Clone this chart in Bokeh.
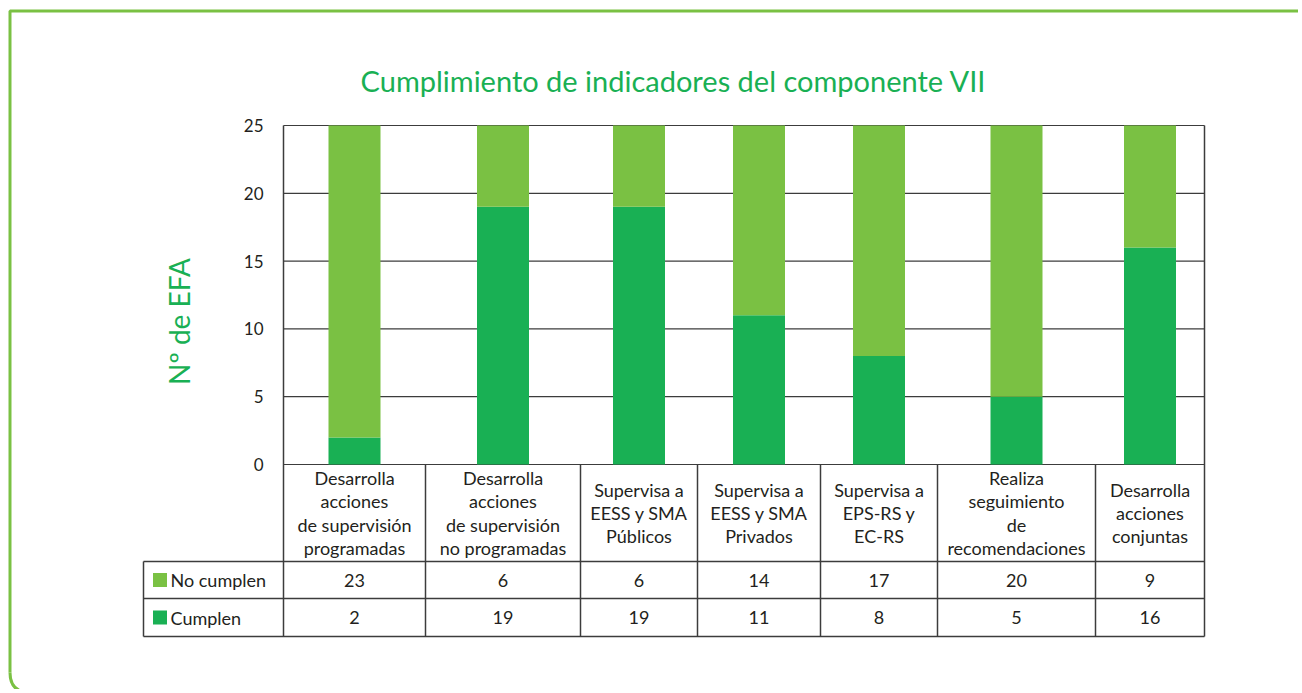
import math
from bokeh.plotting import figure
from bokeh.models import Range1d, LinearAxis, FixedTicker, Label, ColumnDataSource
from bokeh.embed import file_html
from bokeh.resources import INLINE
from bokeh.core.properties import value

# ---------------- data ----------------
categories = [
    "Desarrolla\nacciones\nde supervisión\nprogramadas",
    "Desarrolla\nacciones\nde supervisión\nno programadas",
    "Supervisa a\nEESS y SMA\nPúblicos",
    "Supervisa a\nEESS y SMA\nPrivados",
    "Supervisa a\nEPS-RS y\nEC-RS",
    "Realiza\nseguimiento\nde\nrecomendaciones",
    "Desarrolla\nacciones\nconjuntas",
]
no_cumplen = [23, 6, 6, 14, 17, 20, 9]
cumplen = [2, 19, 19, 11, 8, 5, 16]
series = ["No cumplen", "Cumplen"]
y_ticks = [0, 5, 10, 15, 20, 25]
title_text = "Cumplimiento de indicadores del componente VII"
y_label = "Nº de EFA"

# ---------------- layout / style ----------------
FONT = "Lato"
LIGHT = "#7ac143"
DARK = "#19b054"
TEXT = "#231f20"
LINE = "#3c3c3c"
BORDER = "#7ac143"

W, H = 1298, 689
OFF = 0
col_edges = [283, 425, 580, 697, 820, 937, 1095, 1204]
plot_top_px, zero_px = 125, 464
row_px = [561, 598, 636]
table_left = 143
ymax = max(y_ticks)
ppu = (zero_px - plot_top_px) / ymax


def vy(sy):
    return (zero_px - sy) / ppu


centers = [(a + b) / 2 for a, b in zip(col_edges[:-1], col_edges[1:])]
x_left, x_right = col_edges[0], col_edges[-1]

p = figure(width=W, height=H, x_range=Range1d(OFF, OFF + W),
           y_range=Range1d(vy(OFF + H), vy(OFF)),
           output_backend="svg", toolbar_location=None, min_border=0,
           x_axis_type=None, y_axis_type=None, outline_line_color=None,
           background_fill_color="white", border_fill_color="white")

# grid lines (inside plot area only)
p.segment(x0=[x_left] * len(y_ticks), x1=[x_right] * len(y_ticks),
          y0=y_ticks, y1=y_ticks, line_color=LINE, line_width=1.2)

# stacked bars
src = ColumnDataSource(dict(x=centers, Cumplen=cumplen, NoCumplen=no_cumplen))
p.vbar_stack(["Cumplen", "NoCumplen"], x="x", width=52, source=src,
             color=[DARK, LIGHT], line_color=None)

# table lines
for ry in row_px:
    p.segment(x0=table_left, x1=x_right, y0=vy(ry), y1=vy(ry), line_color=LINE, line_width=1.5)
inner = col_edges[1:-1]
p.segment(x0=inner, x1=inner, y0=[0] * len(inner), y1=[vy(row_px[-1])] * len(inner),
          line_color=LINE, line_width=1.5)
p.segment(x0=x_right, x1=x_right, y0=ymax, y1=vy(row_px[-1]), line_color=LINE, line_width=1.5)
p.segment(x0=table_left, x1=table_left, y0=vy(row_px[0]), y1=vy(row_px[-1]),
          line_color=LINE, line_width=1.5)

# y axis placed at the left edge of the plot area
yaxis = LinearAxis(fixed_location=x_left, ticker=FixedTicker(ticks=y_ticks),
                   bounds=(vy(row_px[-1]), ymax))
yaxis.axis_line_color = LINE
yaxis.axis_line_width = 1.5
yaxis.major_tick_line_color = None
yaxis.minor_tick_line_color = None
yaxis.major_tick_out = 0
yaxis.major_tick_in = 0
yaxis.major_label_standoff = 20
yaxis.major_label_text_font = FONT
yaxis.major_label_text_font_size = "17px"
yaxis.major_label_text_color = TEXT
p.add_layout(yaxis, "left")

# header row with category names
p.text(x=centers, y=vy((zero_px + row_px[0]) / 2), text=categories,
       text_align="center", text_baseline="middle", text_font=value(FONT),
       text_font_size="18px", text_line_height=1.05, text_color=TEXT)

# value rows
r1 = vy((row_px[0] + row_px[1]) / 2)
r2 = vy((row_px[1] + row_px[2]) / 2)
p.text(x=centers, y=[r1] * len(centers), text=[str(v) for v in no_cumplen],
       text_align="center", text_baseline="middle", text_font=value(FONT),
       text_font_size="18px", text_color=TEXT)
p.text(x=centers, y=[r2] * len(centers), text=[str(v) for v in cumplen],
       text_align="center", text_baseline="middle", text_font=value(FONT),
       text_font_size="18px", text_color=TEXT)

# legend keys in the table
p.scatter(x=[159.5, 159.5], y=[r1, r2], marker="square", size=14,
          color=[LIGHT, DARK], line_color=None)
p.text(x=[170, 170], y=[r1, r2], text=series, text_align="left",
       text_baseline="middle", text_font=value(FONT), text_font_size="18px",
       text_color=TEXT)

# title and y label
p.add_layout(Label(x=673, y=vy(80), text=title_text, text_align="center",
                   text_baseline="middle", text_font=FONT, text_font_size="29px",
                   text_color=DARK))
p.add_layout(Label(x=178, y=vy(321), text=y_label, angle=math.pi / 2,
                   text_align="center", text_baseline="middle", text_font=FONT,
                   text_font_size="28px", text_color=DARK))

# page frame (green border with rounded lower-left corner)
p.line(x=[OFF + W, 9.5, 9.5], y=[vy(10.5), vy(10.5), vy(672)], line_color=BORDER, line_width=3)
p.quadratic(x0=9.5, y0=vy(672), cx=9.5, cy=vy(692), x1=29.5, y1=vy(692),
            line_color=BORDER, line_width=3)

open("out.html", "w").write(file_html(p, INLINE))
